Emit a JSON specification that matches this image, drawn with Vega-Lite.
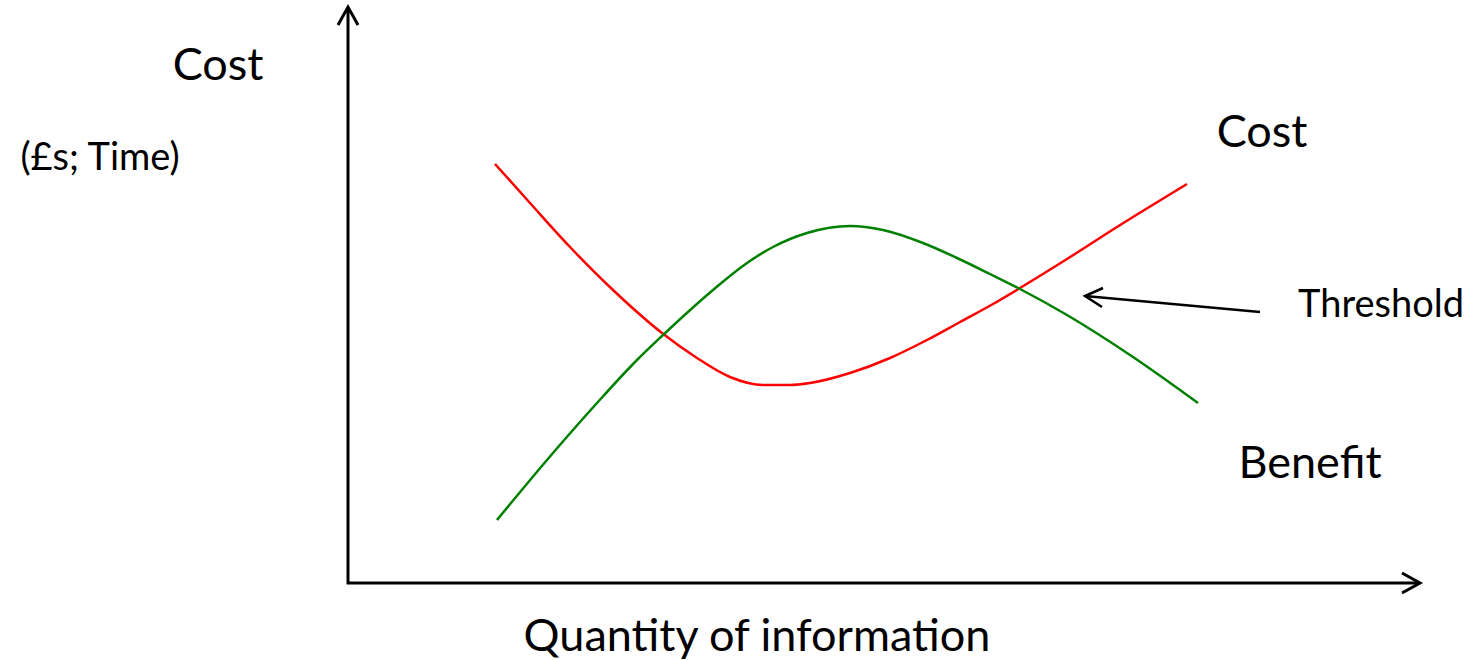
{
  "$schema": "https://vega.github.io/schema/vega-lite/v6.json",
  "width": 1472,
  "height": 660,
  "padding": 0,
  "autosize": {"type": "fit", "contains": "padding"},
  "background": "white",
  "config": {"view": {"stroke": null}},
  "datasets": {
    "curves": [
      {"series": "Cost", "x": 147, "y": 419},
      {"series": "Cost", "x": 182, "y": 380},
      {"series": "Cost", "x": 222, "y": 336},
      {"series": "Cost", "x": 265, "y": 293},
      {"series": "Cost", "x": 314, "y": 250},
      {"series": "Cost", "x": 349, "y": 225},
      {"series": "Cost", "x": 382, "y": 206},
      {"series": "Cost", "x": 415, "y": 198},
      {"series": "Cost", "x": 442, "y": 198},
      {"series": "Cost", "x": 462, "y": 200},
      {"series": "Cost", "x": 502, "y": 210},
      {"series": "Cost", "x": 542, "y": 225},
      {"series": "Cost", "x": 579, "y": 243},
      {"series": "Cost", "x": 612, "y": 261},
      {"series": "Cost", "x": 645, "y": 279},
      {"series": "Cost", "x": 672, "y": 295},
      {"series": "Cost", "x": 719, "y": 324},
      {"series": "Cost", "x": 769, "y": 356},
      {"series": "Cost", "x": 839, "y": 399},
      {"series": "Benefit", "x": 149, "y": 63},
      {"series": "Benefit", "x": 199, "y": 123},
      {"series": "Benefit", "x": 249, "y": 180},
      {"series": "Benefit", "x": 289, "y": 223},
      {"series": "Benefit", "x": 314, "y": 247},
      {"series": "Benefit", "x": 365, "y": 293},
      {"series": "Benefit", "x": 399, "y": 320},
      {"series": "Benefit", "x": 425, "y": 336},
      {"series": "Benefit", "x": 459, "y": 350},
      {"series": "Benefit", "x": 502, "y": 357},
      {"series": "Benefit", "x": 535, "y": 353},
      {"series": "Benefit", "x": 575, "y": 340},
      {"series": "Benefit", "x": 609, "y": 325},
      {"series": "Benefit", "x": 642, "y": 309},
      {"series": "Benefit", "x": 672, "y": 294},
      {"series": "Benefit", "x": 719, "y": 268},
      {"series": "Benefit", "x": 785, "y": 226},
      {"series": "Benefit", "x": 850, "y": 180}
    ],
    "axes": [
      {"part": "axes", "x": 0, "y": 575, "order": 1},
      {"part": "axes", "x": 0, "y": 0, "order": 2},
      {"part": "axes", "x": 1071, "y": 0, "order": 3},
      {"part": "yhead", "x": -10, "y": 558, "order": 1},
      {"part": "yhead", "x": 0, "y": 576, "order": 2},
      {"part": "yhead", "x": 10, "y": 558, "order": 3},
      {"part": "xhead", "x": 1054, "y": 10, "order": 1},
      {"part": "xhead", "x": 1072, "y": 0, "order": 2},
      {"part": "xhead", "x": 1054, "y": -10, "order": 3}
    ],
    "pointer": [
      {"part": "shaft", "x": 912, "y": 271, "order": 1},
      {"part": "shaft", "x": 737, "y": 287, "order": 2},
      {"part": "head", "x": 755, "y": 295, "order": 1},
      {"part": "head", "x": 737, "y": 287, "order": 2},
      {"part": "head", "x": 754, "y": 276, "order": 3}
    ],
    "bigtext": [
      {"label": "Cost", "x": -130, "y": 503},
      {"label": "Cost", "x": 914, "y": 436},
      {"label": "Benefit", "x": 962, "y": 105},
      {"label": "Quantity of information", "x": 409, "y": -68}
    ],
    "smalltext": [
      {"label": "(£s; Time)", "x": -248, "y": 413},
      {"label": "Threshold", "x": 1033, "y": 266}
    ]
  },
  "encoding": {
    "x": {"field": "x", "type": "quantitative", "scale": {"domain": [-348, 1124], "nice": false, "zero": false}, "axis": null},
    "y": {"field": "y", "type": "quantitative", "scale": {"domain": [-77, 583], "nice": false, "zero": false}, "axis": null}
  },
  "layer": [
    {
      "data": {"name": "curves"},
      "mark": {"type": "line", "interpolate": "monotone", "strokeWidth": 2.5},
      "encoding": {
        "color": {"field": "series", "type": "nominal", "scale": {"domain": ["Cost", "Benefit"], "range": ["#ff0000", "#008000"]}, "legend": null}
      }
    },
    {
      "data": {"name": "axes"},
      "mark": {"type": "line", "color": "black", "strokeWidth": 3, "strokeJoin": "miter", "strokeCap": "butt"},
      "encoding": {
        "detail": {"field": "part"},
        "order": {"field": "order", "type": "quantitative"}
      }
    },
    {
      "data": {"name": "pointer"},
      "mark": {"type": "line", "color": "black", "strokeWidth": 2.5, "strokeJoin": "miter", "strokeCap": "butt"},
      "encoding": {
        "detail": {"field": "part"},
        "order": {"field": "order", "type": "quantitative"}
      }
    },
    {
      "data": {"name": "bigtext"},
      "mark": {"type": "text", "font": "Lato", "fontSize": 45, "align": "center", "baseline": "alphabetic", "color": "black"},
      "encoding": {"text": {"field": "label"}}
    },
    {
      "data": {"name": "smalltext"},
      "mark": {"type": "text", "font": "Lato", "fontSize": 38, "align": "center", "baseline": "alphabetic", "color": "black"},
      "encoding": {"text": {"field": "label"}}
    }
  ]
}
